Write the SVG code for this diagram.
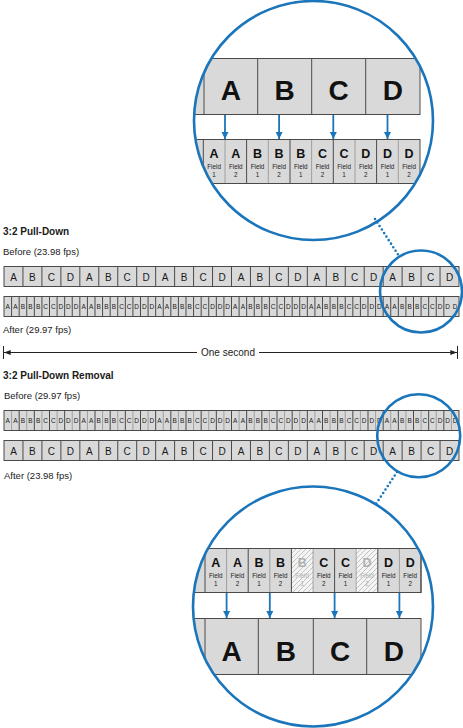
<svg xmlns="http://www.w3.org/2000/svg" width="463" height="728" viewBox="0 0 463 728">
<style>
.t{font-family:"Liberation Sans",Arial,sans-serif;fill:#1a1a1a}
.h{font-weight:bold;font-size:10px}
.l{font-size:9.5px}
.c{text-anchor:middle}
.fr{font-size:10px}
.fd{font-size:6.5px}
.big{font-weight:bold;font-size:28px;text-anchor:middle;fill:#111}
.fl{font-weight:bold;font-size:12.5px;text-anchor:middle;fill:#111}
.fw{font-size:6.3px;text-anchor:middle;fill:#222}
.gh{fill:#b0b0b0}
.cell{fill:#d9d9d9;stroke:#4a4a4a;stroke-width:1}
.dv{stroke:#4a4a4a;stroke-width:1;fill:none}
.dt{stroke:#4a4a4a;stroke-width:0.8;stroke-dasharray:1 1;fill:none}
.ring{fill:none;stroke:#1a75bb;stroke-width:2.6}
.lead{stroke:#1a75bb;stroke-width:2.6;stroke-linecap:round;stroke-dasharray:0 4.2;fill:none}
.arr{stroke:#1a75bb;stroke-width:1.8;fill:none;marker-end:url(#ab)}
.sec{stroke:#222;stroke-width:1;fill:none}
</style>
<defs>
<marker id="ab" viewBox="0 0 8 8" refX="8" refY="4" markerWidth="7" markerHeight="8" orient="auto" markerUnits="userSpaceOnUse"><path d="M0 0L8 4L0 8z" fill="#1a75bb"/></marker>
<marker id="ak" viewBox="0 0 8 6" refX="8" refY="3" markerWidth="8" markerHeight="5" orient="auto" markerUnits="userSpaceOnUse"><path d="M0 0L8 3L0 6z" fill="#222"/></marker>
<clipPath id="cTop"><circle cx="313.5" cy="120.5" r="119"/></clipPath>
<clipPath id="cBot"><circle cx="313" cy="606.5" r="119.5"/></clipPath>
<pattern id="hatch" width="5" height="5" patternUnits="userSpaceOnUse"><path d="M-1 1L1 -1M0 5L5 0M4 6L6 4" stroke="#b5b5b5" stroke-width="0.8"/></pattern>
</defs>

<g id="title-pulldown"><text class="t h" x="3" y="235">3:2 Pull-Down</text></g>
<g id="label-before-2398"><text class="t l" x="3" y="255">Before (23.98 fps)</text></g>

<g id="strip-pd-before">
<rect class="cell" x="4" y="266.5" width="455" height="20"/>
<path class="dv" d="M22.96 266.5v20m18.958-20v20m18.958-20v20m18.958-20v20m18.958-20v20m18.958-20v20m18.958-20v20m18.958-20v20m18.958-20v20m18.958-20v20m18.958-20v20m18.958-20v20m18.958-20v20m18.958-20v20m18.958-20v20m18.958-20v20m18.958-20v20m18.958-20v20m18.958-20v20m18.958-20v20m18.958-20v20m18.958-20v20m18.958-20v20"/>
<text class="t fr c" y="280.5" x="13.48 32.44 51.40 70.35 89.31 108.27 127.23 146.19 165.15 184.10 203.06 222.02 240.98 259.94 278.90 297.85 316.81 335.77 354.73 373.69 392.65 411.60 430.56 449.52">ABCDABCDABCDABCDABCDABCD</text>
</g>

<g id="strip-pd-after">
<rect class="cell" x="4" y="296.5" width="455" height="20"/>
<path class="dv" d="M11.58 296.5v20m7.5833-20v20m7.5833-20v20m7.5833-20v20m7.5833-20v20m7.5833-20v20m7.5833-20v20m7.5833-20v20m7.5833-20v20m7.5833-20v20m7.5833-20v20m7.5833-20v20m7.5833-20v20m7.5833-20v20m7.5833-20v20m7.5833-20v20m7.5833-20v20m7.5833-20v20m7.5833-20v20m7.5833-20v20m7.5833-20v20m7.5833-20v20m7.5833-20v20m7.5833-20v20m7.5833-20v20m7.5833-20v20m7.5833-20v20m7.5833-20v20m7.5833-20v20m7.5833-20v20m7.5833-20v20m7.5833-20v20m7.5833-20v20m7.5833-20v20m7.5833-20v20m7.5833-20v20m7.5833-20v20m7.5833-20v20m7.5833-20v20m7.5833-20v20m7.5833-20v20m7.5833-20v20m7.5833-20v20m7.5833-20v20m7.5833-20v20m7.5833-20v20m7.5833-20v20m7.5833-20v20m7.5833-20v20m7.5833-20v20m7.5833-20v20m7.5833-20v20m7.5833-20v20m7.5833-20v20m7.5833-20v20m7.5833-20v20m7.5833-20v20m7.5833-20v20"/>
<text class="t fd c" y="309" x="7.79 15.38 22.96 30.54 38.13 45.71 53.29 60.88 68.46 76.04 83.63 91.21 98.79 106.38 113.96 121.54 129.13 136.71 144.29 151.88 159.46 167.04 174.63 182.21 189.79 197.38 204.96 212.54 220.13 227.71 235.29 242.88 250.46 258.04 265.63 273.21 280.79 288.38 295.96 303.54 311.13 318.71 326.29 333.88 341.46 349.04 356.63 364.21 371.79 379.38 386.96 394.54 402.13 409.71 417.29 424.88 432.46 440.04 447.63 455.21">AABBBCCDDDAABBBCCDDDAABBBCCDDDAABBBCCDDDAABBBCCDDDAABBBCCDDD</text>
</g>

<g id="label-after-2997"><text class="t l" x="3" y="333">After (29.97 fps)</text></g>
<g id="label-one-second"><text class="t fr c" x="228" y="355.5">One second</text></g>

<g id="title-removal"><text class="t h" x="3" y="379">3:2 Pull-Down Removal</text></g>
<g id="label-before-2997"><text class="t l" x="4" y="399">Before (29.97 fps)</text></g>

<g id="strip-rm-before">
<rect class="cell" x="4" y="410.5" width="455" height="20"/>
<path class="dv" d="M19.17 410.5v20m15.1667-20v20m15.1667-20v20m15.1667-20v20m15.1667-20v20m15.1667-20v20m15.1667-20v20m15.1667-20v20m15.1667-20v20m15.1667-20v20m15.1667-20v20m15.1667-20v20m15.1667-20v20m15.1667-20v20m15.1667-20v20m15.1667-20v20m15.1667-20v20m15.1667-20v20m15.1667-20v20m15.1667-20v20m15.1667-20v20m15.1667-20v20m15.1667-20v20m15.1667-20v20m15.1667-20v20m15.1667-20v20m15.1667-20v20m15.1667-20v20m15.1667-20v20"/>
<path class="dt" d="M11.58 410.5v20m15.1667-20v20m15.1667-20v20m15.1667-20v20m15.1667-20v20m15.1667-20v20m15.1667-20v20m15.1667-20v20m15.1667-20v20m15.1667-20v20m15.1667-20v20m15.1667-20v20m15.1667-20v20m15.1667-20v20m15.1667-20v20m15.1667-20v20m15.1667-20v20m15.1667-20v20m15.1667-20v20m15.1667-20v20m15.1667-20v20m15.1667-20v20m15.1667-20v20m15.1667-20v20m15.1667-20v20m15.1667-20v20m15.1667-20v20m15.1667-20v20m15.1667-20v20m15.1667-20v20"/>
<text class="t fd c" y="423" x="7.79 15.38 22.96 30.54 38.13 45.71 53.29 60.88 68.46 76.04 83.63 91.21 98.79 106.38 113.96 121.54 129.13 136.71 144.29 151.88 159.46 167.04 174.63 182.21 189.79 197.38 204.96 212.54 220.13 227.71 235.29 242.88 250.46 258.04 265.63 273.21 280.79 288.38 295.96 303.54 311.13 318.71 326.29 333.88 341.46 349.04 356.63 364.21 371.79 379.38 386.96 394.54 402.13 409.71 417.29 424.88 432.46 440.04 447.63 455.21">AABBBCCDDDAABBBCCDDDAABBBCCDDDAABBBCCDDDAABBBCCDDDAABBBCCDDD</text>
</g>

<g id="strip-rm-after">
<rect class="cell" x="4" y="440.5" width="455" height="20"/>
<path class="dv" d="M22.96 440.5v20m18.958-20v20m18.958-20v20m18.958-20v20m18.958-20v20m18.958-20v20m18.958-20v20m18.958-20v20m18.958-20v20m18.958-20v20m18.958-20v20m18.958-20v20m18.958-20v20m18.958-20v20m18.958-20v20m18.958-20v20m18.958-20v20m18.958-20v20m18.958-20v20m18.958-20v20m18.958-20v20m18.958-20v20m18.958-20v20"/>
<text class="t fr c" y="454.5" x="13.48 32.44 51.40 70.35 89.31 108.27 127.23 146.19 165.15 184.10 203.06 222.02 240.98 259.94 278.90 297.85 316.81 335.77 354.73 373.69 392.65 411.60 430.56 449.52">ABCDABCDABCDABCDABCDABCD</text>
</g>
<g id="label-after-2398"><text class="t l" x="4" y="479">After (23.98 fps)</text></g>

<g id="magnify-top">
<g clip-path="url(#cTop)">
<rect class="cell" x="150" y="58.5" width="270" height="56"/>
<path class="dv" d="M204 58.5v56M257.7 58.5v56M311.7 58.5v56M365.7 58.5v56"/>
<text class="t big" y="100"><tspan x="230.9">A</tspan><tspan x="284.7">B</tspan><tspan x="338.7">C</tspan><tspan x="392.9">D</tspan></text>
<rect class="cell" x="150" y="139.5" width="270" height="44"/>
<path class="dv" d="M203.3 139.5v44M246.6 139.5v44M290 139.5v44M333.3 139.5v44M376.6 139.5v44"/>
<path class="dt" d="M225 139.5v44M268.3 139.5v44M311.6 139.5v44M355 139.5v44M398.3 139.5v44"/>
<text class="t fl" y="158" x="214.1 235.8 257.5 279.1 300.8 322.5 344.1 365.8 387.5 409.1">AABBBCCDDD</text>
<text class="t fw" y="168.5"><tspan x="214.1">Field</tspan><tspan x="235.8">Field</tspan><tspan x="257.5">Field</tspan><tspan x="279.1">Field</tspan><tspan x="300.8">Field</tspan><tspan x="322.5">Field</tspan><tspan x="344.1">Field</tspan><tspan x="365.8">Field</tspan><tspan x="387.5">Field</tspan><tspan x="409.1">Field</tspan></text>
<text class="t fw" y="176.5" x="214.1 235.8 257.5 279.1 300.8 322.5 344.1 365.8 387.5 409.1">1212121212</text>
</g>
<circle class="ring" cx="313.5" cy="120.5" r="119.5"/>
</g>

<g id="magnify-bottom">
<g clip-path="url(#cBot)">
<rect class="cell" x="150" y="548.5" width="271" height="44"/>
<rect x="291.4" y="548.5" width="21.6" height="44" fill="#f4f4f4"/>
<rect x="291.4" y="548.5" width="21.6" height="44" fill="url(#hatch)"/>
<rect x="356.2" y="548.5" width="21.6" height="44" fill="#f4f4f4"/>
<rect x="356.2" y="548.5" width="21.6" height="44" fill="url(#hatch)"/>
<rect x="150" y="548.5" width="271" height="44" fill="none" stroke="#4a4a4a"/>
<path class="dv" d="M205 548.5v44M248.2 548.5v44M291.4 548.5v44M334.6 548.5v44M377.8 548.5v44"/>
<path class="dt" d="M226.6 548.5v44M269.8 548.5v44M313 548.5v44M356.2 548.5v44M399.4 548.5v44"/>
<text class="t fl" y="567"><tspan x="215.8">A</tspan><tspan x="237.4">A</tspan><tspan x="259">B</tspan><tspan x="280.6">B</tspan><tspan x="302.2" class="gh">B</tspan><tspan x="323.8">C</tspan><tspan x="345.4">C</tspan><tspan x="367" class="gh">D</tspan><tspan x="388.6">D</tspan><tspan x="410.2">D</tspan></text>
<text class="t fw" y="577.5"><tspan x="215.8">Field</tspan><tspan x="237.4">Field</tspan><tspan x="259">Field</tspan><tspan x="280.6">Field</tspan><tspan x="302.2" class="gh">Field</tspan><tspan x="323.8">Field</tspan><tspan x="345.4">Field</tspan><tspan x="367" class="gh">Field</tspan><tspan x="388.6">Field</tspan><tspan x="410.2">Field</tspan></text>
<text class="t fw" y="585.5"><tspan x="215.8">1</tspan><tspan x="237.4">2</tspan><tspan x="259">1</tspan><tspan x="280.6">2</tspan><tspan x="302.2" class="gh">1</tspan><tspan x="323.8">2</tspan><tspan x="345.4">1</tspan><tspan x="367" class="gh">2</tspan><tspan x="388.6">1</tspan><tspan x="410.2">2</tspan></text>
<rect class="cell" x="150" y="618.5" width="271" height="56"/>
<path class="dv" d="M205 618.5v56M258.3 618.5v56M313.3 618.5v56M366.7 618.5v56"/>
<text class="t big" y="661"><tspan x="231.7">A</tspan><tspan x="285.8">B</tspan><tspan x="340">C</tspan><tspan x="393.9">D</tspan></text>
</g>
<circle class="ring" cx="313" cy="606.5" r="120"/>
</g>

<g id="zoom-top-small"><circle class="ring" cx="421" cy="291.5" r="41"/></g>
<g id="zoom-bottom-small"><circle class="ring" cx="418.7" cy="435.7" r="41.5"/></g>

<g id="connectors">
<path class="lead" d="M375 219L399 256"/>
<path class="lead" d="M397 472L376 504"/>
<path class="arr" d="M225 115V139"/>
<path class="arr" d="M279.1 115V139"/>
<path class="arr" d="M333.3 115V139"/>
<path class="arr" d="M387.5 115V139"/>
<path class="arr" d="M226.6 593V618"/>
<path class="arr" d="M269.8 593V618"/>
<path class="arr" d="M334.6 593V618"/>
<path class="arr" d="M399.4 593V618"/>
<path class="sec" d="M3.5 346V359M457.5 346V359"/>
<path class="sec" d="M197 352.5H4" marker-end="url(#ak)"/>
<path class="sec" d="M259 352.5H457" marker-end="url(#ak)"/>
</g>
</svg>
